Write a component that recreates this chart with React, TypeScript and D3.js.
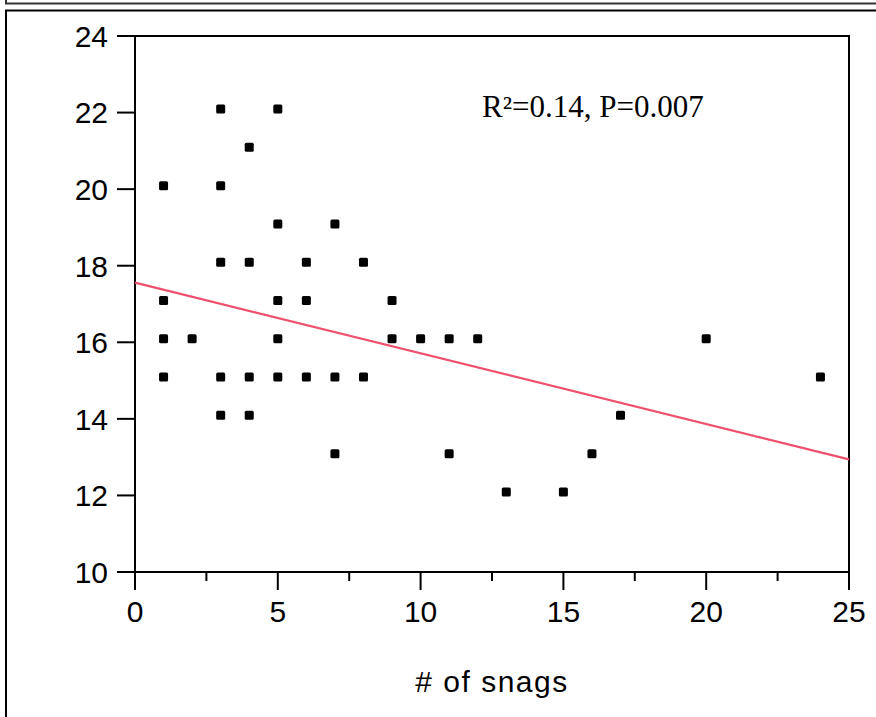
import React from 'react';
import * as d3 from 'd3';

// --- data ---
const snagCounts = [1, 1, 1, 1, 2, 3, 3, 3, 3, 3, 4, 4, 4, 4, 5, 5, 5, 5, 5, 6, 6, 6, 7, 7, 7, 8, 8, 9, 9, 10, 11, 11, 12, 13, 15, 16, 17, 20, 24];
const yValues = [20, 17, 16, 15, 16, 22, 20, 18, 15, 14, 21, 18, 15, 14, 22, 19, 17, 16, 15, 18, 17, 15, 19, 15, 13, 18, 15, 17, 16, 16, 16, 13, 16, 12, 12, 13, 14, 16, 15];
const xTicks = [0, 5, 10, 15, 20, 25];
const xMinorTicks = [2.5, 7.5, 12.5, 17.5, 22.5];
const yTicks = [10, 12, 14, 16, 18, 20, 22, 24];
const fitLine = [{ x: 0, y: 17.56 }, { x: 25, y: 12.94 }];
const statsLabel = 'R\u00B2=0.14, P=0.007';
const xTitle = '# of snags';

const W = 876, H = 717;
const plot = { left: 135, right: 849, top: 36, bottom: 572 };
const FONT = 'Arial, "Liberation Sans", sans-serif';
const SERIF = '"Times New Roman", "Liberation Serif", serif';

export default function App() {
  const x = d3.scaleLinear().domain([0, 25]).range([plot.left, plot.right]);
  const y = d3.scaleLinear().domain([10, 24]).range([plot.bottom, plot.top]);
  const line = d3.line<{ x: number; y: number }>().x(d => x(d.x)).y(d => y(d.y));
  const pts = snagCounts.map((s, i) => ({ s, v: yValues[i] }));
  const mk = 9; // marker size
  const markerDy = -3.5; // markers sit slightly above their tick in the original

  return (
    <svg width={W} height={H} style={{ position: 'fixed', left: 0, top: 0, background: '#fff' }}>
      <rect width={W} height={H} fill="#fff" />
      {/* outer frames */}
      <path d={`M6,0 V3.5 H${W}`} fill="none" stroke="#333" strokeWidth={2} />
      <path d={`M6,${H} V10.5 H${W}`} fill="none" stroke="#000" strokeWidth={2} />

      {/* plot box */}
      <path d={`M${plot.left},${plot.bottom} V${plot.top} H${plot.right} V${plot.bottom} Z`} fill="none" stroke="#000" strokeWidth={2} />

      {/* y axis */}
      {yTicks.map(t => (
        <g key={'y' + t}>
          <line x1={plot.left - 18} x2={plot.left} y1={y(t)} y2={y(t)} stroke="#000" strokeWidth={2} />
          <text x={plot.left - 27} y={y(t)} dy="0.36em" textAnchor="end" fontFamily={FONT} fontSize={30}>{t}</text>
        </g>
      ))}

      {/* x axis */}
      {xTicks.map(t => (
        <g key={'x' + t}>
          <line x1={x(t)} x2={x(t)} y1={plot.bottom} y2={plot.bottom + 18} stroke="#000" strokeWidth={2} />
          <text x={x(t)} y={622} textAnchor="middle" fontFamily={FONT} fontSize={30}>{t}</text>
        </g>
      ))}
      {xMinorTicks.map(t => (
        <line key={'m' + t} x1={x(t)} x2={x(t)} y1={plot.bottom} y2={plot.bottom + 9} stroke="#000" strokeWidth={2} />
      ))}
      <text x={(plot.left + plot.right) / 2} y={692} textAnchor="middle" fontFamily={FONT} fontSize={30} letterSpacing={1.5}>{xTitle}</text>

      {/* regression line */}
      <path d={line(fitLine) || ''} fill="none" stroke="#ef506e" strokeWidth={2.2} />

      {/* points */}
      {pts.map((p, i) => (
        <rect key={i} x={x(p.s) - mk / 2} y={y(p.v) - mk / 2 + markerDy} width={mk} height={mk} rx={1.5} fill="#000" />
      ))}

      <text x={482} y={117} fontFamily={SERIF} fontSize={31}>{statsLabel}</text>
    </svg>
  );
}
